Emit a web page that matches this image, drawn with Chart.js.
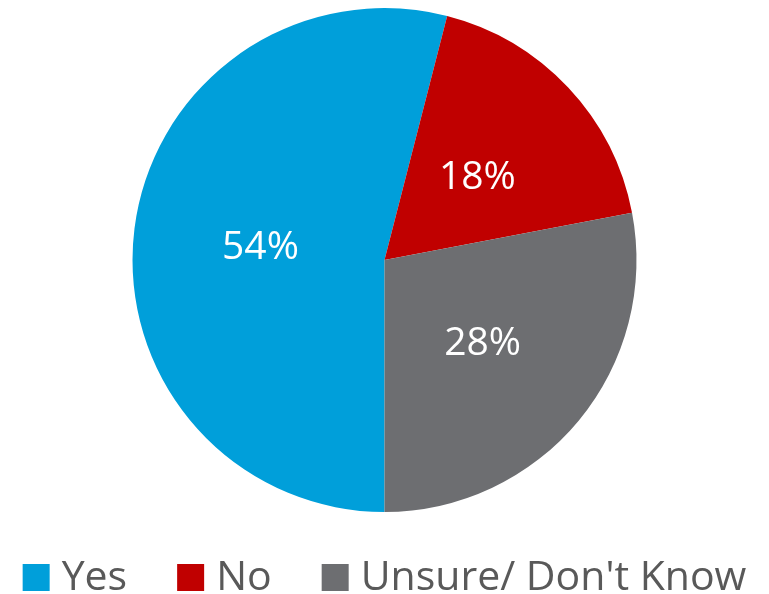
<!DOCTYPE html>
<html>
<head>
<meta charset="utf-8">
<script src="https://cdn.jsdelivr.net/npm/chart.js@4"></script>
<style>
  html, body { margin: 0; padding: 0; background: #fff; }
  #wrap { width: 769px; height: 594px; }
</style>
</head>
<body>
<div id="wrap"><canvas id="pieChart"></canvas></div>
<script>
// Answer categories and their shares (percent)
const categories = ['Yes', 'No', "Unsure/ Don't Know"];
const shares = [54, 18, 28];
const sliceColors = ['#009FDA', '#C00000', '#6D6E71'];

// Draws the percentage label in the middle of each slice
const sliceLabels = {
    id: 'sliceLabels',
    afterDatasetsDraw(chart) {
        const ctx = chart.ctx;
        const meta = chart.getDatasetMeta(0);
        ctx.save();
        ctx.fillStyle = '#FFFFFF';
        ctx.font = '39px "Open Sans"';
        ctx.textAlign = 'center';
        ctx.textBaseline = 'middle';
        meta.data.forEach(function(arc, i) {
            const pos = arc.tooltipPosition();
            ctx.fillText(shares[i] + '%', pos.x + 1, pos.y + 4);
        });
        ctx.restore();
    }
};

// Single-row legend under the pie (built-in one wraps at this font size)
const bottomLegend = {
    id: 'bottomLegend',
    afterDraw(chart) {
        const ctx = chart.ctx;
        const labels = chart.data.labels;
        const colors = chart.data.datasets[0].backgroundColor;
        const box = 27, textGap = 12, itemGap = 50;
        const baseline = 590;

        ctx.save();
        ctx.font = '41px "Open Sans"';
        ctx.textAlign = 'left';
        ctx.textBaseline = 'alphabetic';

        let total = 0;
        labels.forEach(function(label, i) {
            total += box + textGap + ctx.measureText(label).width;
            if (i < labels.length - 1) total += itemGap;
        });

        let x = (chart.width - total) / 2;
        labels.forEach(function(label, i) {
            ctx.fillStyle = colors[i];
            ctx.fillRect(x, baseline - 26, box, box);
            x += box + textGap;
            ctx.fillStyle = '#595959';
            ctx.fillText(label, x, baseline);
            x += ctx.measureText(label).width + itemGap;
        });
        ctx.restore();
    }
};

window.onload = function() {
    const ctx = document.getElementById('pieChart').getContext('2d');

    window.myPie = new Chart(ctx, {
        type: 'pie',
        data: {
            labels: categories,
            datasets: [{
                data: shares,
                backgroundColor: sliceColors,
                borderWidth: 0
            }]
        },
        options: {
            responsive: true,
            maintainAspectRatio: false,
            animation: false,
            rotation: 180,
            layout: {
                padding: { top: 8, bottom: 82 }
            },
            plugins: {
                tooltip: { enabled: false },
                legend: { display: false }
            }
        },
        plugins: [sliceLabels, bottomLegend]
    });
};
</script>
</body>
</html>
